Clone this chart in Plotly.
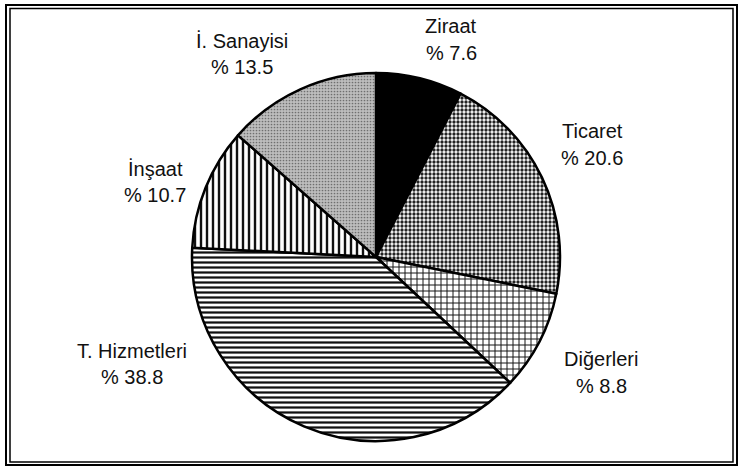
import plotly.graph_objects as go

W, H = 743, 468

sectors = ["Ziraat", "Ticaret", "Diğerleri", "T. Hizmetleri", "İnşaat", "İ. Sanayisi"]
shares = [7.6, 20.6, 8.8, 38.8, 10.7, 13.5]
value_labels = ["% 7.6", "% 20.6", "% 8.8", "% 38.8", "% 10.7", "% 13.5"]

# label anchor positions (pixels): x centre, y of name line, y of value line
label_px = [(451, 26, 53), (592, 131, 158), (601, 359, 386),
            (132, 351, 377), (155, 169, 195), (242, 41, 67)]

pattern_shapes = ["", ".", "+", "-", "|", "."]
pattern_bg = ["black", "white", "white", "white", "white", "#bdbdbd"]
pattern_fg = ["black", "#222222", "#111111", "#111111", "#111111", "#6f6f6f"]
pattern_size = [6, 4, 6, 5, 6, 3]
pattern_sol = [0.3, 0.55, 0.3, 0.45, 0.4, 0.25]

cx, cy, r = 376, 257, 184

fig = go.Figure(go.Pie(
    labels=sectors,
    values=shares,
    sort=False,
    direction="clockwise",
    rotation=0,
    textinfo="none",
    hoverinfo="label+percent",
    showlegend=False,
    domain=dict(x=[(cx - r) / W, (cx + r) / W], y=[1 - (cy + r) / H, 1 - (cy - r) / H]),
    marker=dict(
        colors=pattern_bg,
        line=dict(color="black", width=2.5),
        pattern=dict(
            shape=pattern_shapes,
            bgcolor=pattern_bg,
            fgcolor=pattern_fg,
            size=pattern_size,
            solidity=pattern_sol,
        ),
    ),
))

font = dict(family="Liberation Sans, Arial, sans-serif", size=20, color="#111111")
for name, val, (px, py1, py2) in zip(sectors, value_labels, label_px):
    for txt, py in ((name, py1), (val, py2)):
        fig.add_annotation(
            x=px / W, y=1 - py / H, xref="paper", yref="paper",
            xanchor="center", yanchor="middle",
            text=txt, showarrow=False, font=font,
        )

fig.add_shape(type="rect", xref="paper", yref="paper",
              x0=6 / W, x1=737 / W, y0=1 - 465 / H, y1=1 - 5 / H,
              line=dict(color="black", width=2))
fig.add_shape(type="rect", xref="paper", yref="paper",
              x0=10 / W, x1=733 / W, y0=1 - 462 / H, y1=1 - 8.5 / H,
              line=dict(color="black", width=1.5))

fig.update_layout(
    width=W, height=H,
    margin=dict(l=0, r=0, t=0, b=0),
    paper_bgcolor="white",
    plot_bgcolor="white",
)

fig.write_html("out.html", config={"displayModeBar": False},
               post_script="document.body.style.margin='0px';")
